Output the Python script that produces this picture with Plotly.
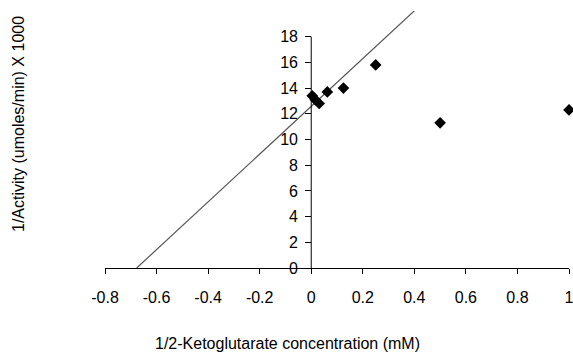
import plotly.graph_objects as go

# data points (x = 1/[2-ketoglutarate] in 1/mM, y = 1/activity x 1000)
x_vals = [0.004, 0.0156, 0.031, 0.0625, 0.125, 0.25, 0.5, 1.0]
y_vals = [13.4, 13.1, 12.8, 13.7, 14.0, 15.8, 11.3, 12.3]

# trendline endpoints as drawn in the chart
trend_x = [-0.677, 0.41]
trend_y = [0.0, 20.2]

x_ticks = [-0.8, -0.6, -0.4, -0.2, 0, 0.2, 0.4, 0.6, 0.8, 1.0]
x_ticktext = ["-0.8", "-0.6", "-0.4", "-0.2", "0", "0.2", "0.4", "0.6", "0.8", "1"]
y_ticks = [0, 2, 4, 6, 8, 10, 12, 14, 16, 18]

FONT = "Liberation Sans, Arial, sans-serif"

fig = go.Figure()
fig.add_trace(go.Scatter(x=trend_x, y=trend_y, mode="lines",
                         line=dict(color="#555555", width=1.2),
                         showlegend=False, hoverinfo="skip"))
fig.add_trace(go.Scatter(x=x_vals, y=y_vals, mode="markers",
                         marker=dict(symbol="diamond", size=9, color="black"),
                         cliponaxis=False, showlegend=False))

# y-axis line from 0 to 18 at x = 0
fig.add_shape(type="line", xref="x", yref="y", x0=0, x1=0, y0=0, y1=18,
              line=dict(color="black", width=1))

fig.update_layout(
    width=573, height=354,
    margin=dict(l=105, r=4, t=11, b=86),
    paper_bgcolor="white", plot_bgcolor="white",
    font=dict(family=FONT, size=16, color="black"),
    xaxis=dict(range=[-0.8, 1.0], tickvals=x_ticks, ticktext=x_ticktext,
               showgrid=False, zeroline=False, showline=True,
               linecolor="black", linewidth=1, ticks="outside", ticklen=5,
               tickcolor="black", ticklabelstandoff=10,
               ticklabeloverflow="allow", automargin=False,
               tickfont=dict(family=FONT, size=16, color="black")),
    yaxis=dict(range=[0, 20], tickvals=y_ticks, ticktext=[str(v) for v in y_ticks],
               showgrid=False, zeroline=False, showline=False,
               anchor="free", position=(0 - (-0.8)) / 1.8, automargin=False,
               ticks="outside", ticklen=6, tickcolor="black",
               ticklabelstandoff=4,
               tickfont=dict(family=FONT, size=16, color="black")),
    annotations=[
        dict(text="1/2-Ketoglutarate concentration (mM)", xref="paper", yref="paper",
             x=(287 - 105) / 464, y=-(343 - 268) / 257, showarrow=False,
             xanchor="center", yanchor="middle",
             font=dict(family=FONT, size=16, color="black")),
        dict(text="1/Activity (umoles/min) X 1000", xref="paper", yref="paper",
             x=-(105 - 18) / 464, y=(268 - 124) / 257, showarrow=False,
             textangle=-90, xanchor="center", yanchor="middle",
             font=dict(family=FONT, size=16, color="black")),
    ],
)

fig.write_html("out.html")
